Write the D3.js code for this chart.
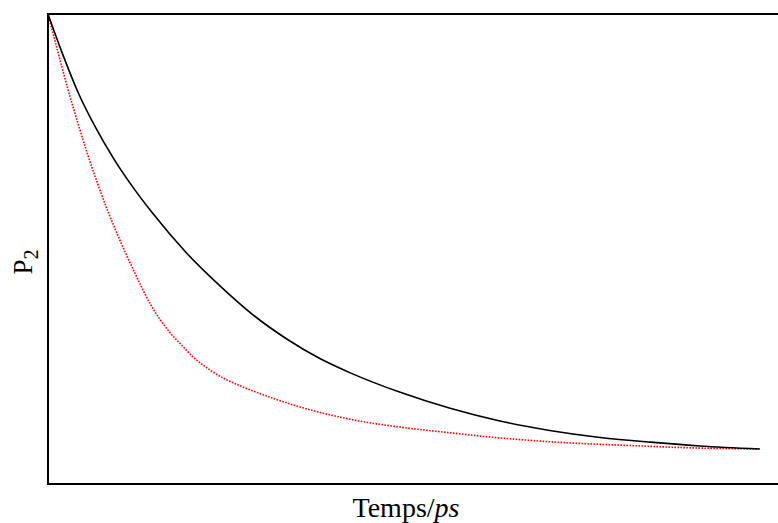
<!DOCTYPE html>
<html>
<head>
<meta charset="utf-8">
<script src="https://cdn.jsdelivr.net/npm/d3@7"></script>
<style>
  body { margin: 0; background: #fff; }
  svg { display: block; }
  text { font-family: "Liberation Serif", "Times New Roman", serif; fill: #000; }
</style>
</head>
<body>
<svg id="chart" width="778" height="523"></svg>
<script>
// time (ps, arbitrary units - axis has no ticks) and P2 values
const blackTimes = [0, 0.21, 0.42, 0.67, 0.94, 1.2, 1.46, 1.95, 2.42, 2.88, 3.36, 3.82, 4.24, 4.95, 5.65, 6.35, 7.05, 7.76, 8.46, 9.16, 10]
const blackValues = [1, 0.913, 0.834, 0.758, 0.688, 0.63, 0.578, 0.491, 0.421, 0.36, 0.308, 0.267, 0.237, 0.195, 0.161, 0.134, 0.114, 0.099, 0.089, 0.081, 0.0745]
const redTimes = [0, 0.14, 0.28, 0.42, 0.56, 0.7, 0.84, 1.01, 1.22, 1.43, 1.71, 1.9, 2.04, 2.18, 2.32, 2.52, 2.7, 2.95, 3.54, 4.24, 4.95, 5.65, 6.35, 7.05, 8.32, 9.02, 10]
const redValues = [1, 0.919, 0.84, 0.768, 0.7, 0.638, 0.581, 0.519, 0.449, 0.385, 0.323, 0.292, 0.27, 0.253, 0.238, 0.221, 0.209, 0.194, 0.164, 0.138, 0.121, 0.109, 0.098, 0.09, 0.081, 0.077, 0.0745]

const xLabel = 'Temps/'
const xLabelUnit = 'ps'
const yLabel = 'P'
const yLabelSub = '2'

const svg = d3.select('#chart')
const plotLeft = 48, plotTop = 14, plotRight = 781, plotBottom = 484

const x = d3.scaleLinear().domain([0, 10.3]).range([plotLeft, plotRight])
const y = d3.scaleLinear().domain([0, 1]).range([plotBottom, plotTop])

const line = d3.line()
    .x(d => x(d[0]))
    .y(d => y(d[1]))
    .curve(d3.curveMonotoneX)

const blackData = blackTimes.map((t, i) => [t, blackValues[i]])
const redData = redTimes.map((t, i) => [t, redValues[i]])

svg.append('path')
    .datum(redData)
    .attr('d', line)
    .attr('fill', 'none')
    .attr('stroke', '#ff0000')
    .attr('stroke-width', 1.6)
    .attr('stroke-dasharray', '1.6,1.4')

svg.append('path')
    .datum(blackData)
    .attr('d', line)
    .attr('fill', 'none')
    .attr('stroke', '#000')
    .attr('stroke-width', 1.6)

// frame (right edge falls outside the picture)
svg.append('rect')
    .attr('x', plotLeft)
    .attr('y', plotTop)
    .attr('width', plotRight - plotLeft)
    .attr('height', plotBottom - plotTop)
    .attr('fill', 'none')
    .attr('stroke', '#000')
    .attr('stroke-width', 2)

const xl = svg.append('text')
    .attr('x', 406)
    .attr('y', 517)
    .attr('text-anchor', 'middle')
    .attr('font-size', 28)
xl.append('tspan').text(xLabel)
xl.append('tspan').attr('font-style', 'italic').text(xLabelUnit)

const yl = svg.append('text')
    .attr('transform', 'translate(32,262) rotate(-90)')
    .attr('text-anchor', 'middle')
    .attr('font-size', 27)
yl.append('tspan').text(yLabel)
yl.append('tspan').attr('dy', '0.3em').attr('font-size', '0.75em').text(yLabelSub)
</script>
</body>
</html>
